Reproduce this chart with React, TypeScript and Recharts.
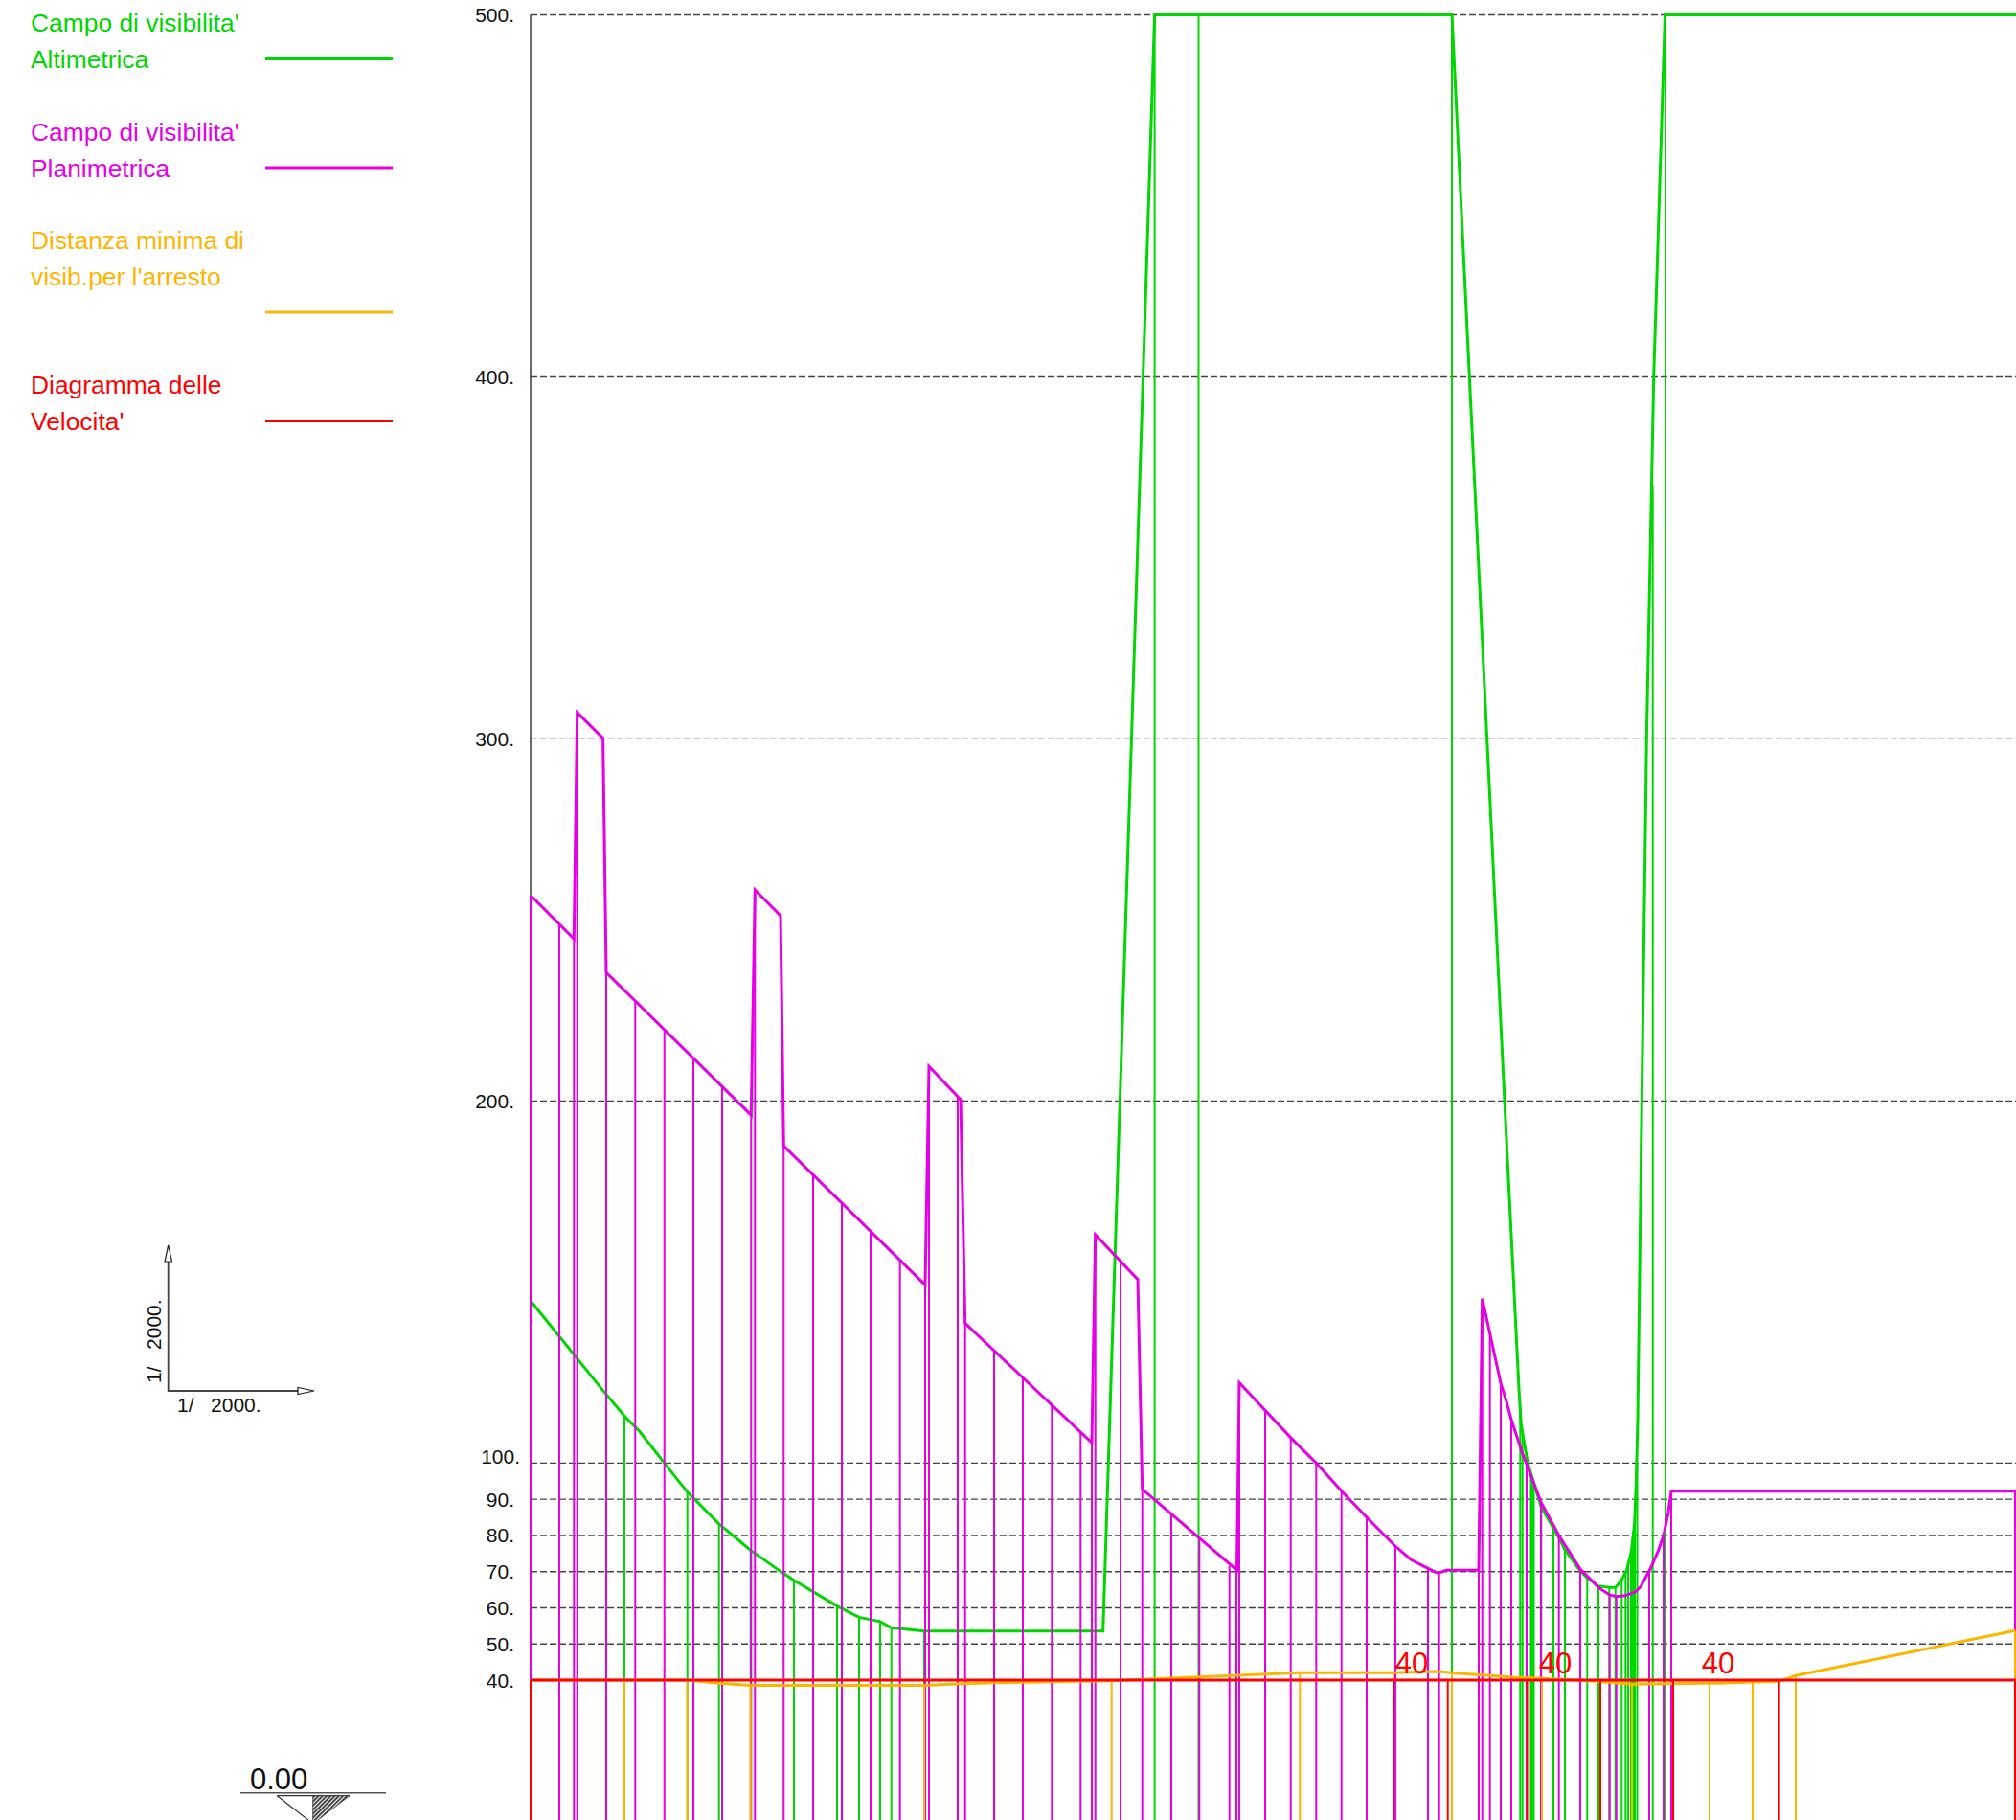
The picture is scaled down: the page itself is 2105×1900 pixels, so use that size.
import { LineChart, Line, XAxis, YAxis, CartesianGrid, ReferenceDot, ReferenceLine } from "recharts";

// progressive along the road, one unit = one drawing pixel at the plotted scale
const altProg = [0, 76, 98, 114, 139.7, 163.7, 196.7, 229.7, 264, 275, 320, 343, 365, 376.7, 411, 597.7, 651.6, 962, 1017, 1032, 1034.3, 1041, 1055.3, 1073.7, 1080, 1096, 1102.7, 1115, 1126.3, 1132.7, 1138.7, 1144.3, 1149.3, 1152.7, 1154.3, 1156, 1160.3, 1165.3, 1172.7, 1184.5, 1551];
const altVal = [144.8, 119.9, 113, 108.7, 100, 92, 83.2, 75.9, 69.5, 67.6, 60.5, 57.4, 56.2, 54.5, 53.6, 53.6, 500, 500, 200, 120.5, 110.7, 100.2, 87.8, 79.4, 76, 70.2, 68.4, 66, 65.6, 65.6, 67.5, 70.2, 75.5, 83.4, 94, 111.7, 200, 300, 400, 500, 500];
const altDropProg = [98, 163.7, 196.7, 229.7, 275, 320, 343, 365, 376.7, 411, 651.6, 697.5, 962, 1033.3, 1035.7, 1040, 1044.5, 1046, 1047.5, 1055.3, 1068, 1080, 1103.3, 1115, 1126.3, 1132.7, 1139.3, 1143.3, 1146, 1149, 1151, 1153, 1155.5, 1171.7, 1185];
const altDropVal = [113, 92, 83.2, 75.9, 67.6, 60.5, 57.4, 56.2, 54.5, 53.6, 500, 500, 500, 115, 108, 101, 96.8, 95, 94, 87.8, 82, 76, 68.3, 66, 65.6, 65.6, 68, 70, 72, 75, 78, 84, 100, 370, 500];

const planProg = [0, 45.3, 48.7, 75.6, 79, 230.3, 234.3, 261, 264.3, 412, 416, 449, 453.7, 586, 589.7, 634, 638.7, 737.5, 740, 793.7, 820.3, 846.7, 873, 903, 919.3, 937, 946, 949, 956, 990, 993.7, 1013, 1019, 1024, 1036, 1055, 1073.7, 1096, 1116, 1126.7, 1133.7, 1142.7, 1153, 1159, 1169, 1177.7, 1183, 1187.7, 1191, 1551];
const planVal = [256.8, 244.8, 307.3, 300.2, 235.5, 196.1, 258.3, 251.2, 187.6, 149.2, 209.6, 200.4, 138.6, 105.6, 163.1, 150.7, 92.8, 70.4, 122.2, 107, 100, 92.3, 85, 77, 73.3, 70.9, 69.7, 69.7, 70.4, 70.4, 145.4, 122, 117, 112, 102.4, 89.2, 80, 70.7, 65.4, 63.6, 63.1, 63.4, 64.3, 65.8, 70.7, 75.9, 80, 86, 92.2, 92.2];
const planDropProg = [0, 30, 45.3, 48.7, 79, 109.3, 139.7, 170, 200, 230.3, 234.3, 264.3, 295, 325, 355, 385.7, 412, 416, 446, 453.7, 484, 514, 544.3, 574.3, 586, 589.7, 616, 638.7, 669, 698.3, 729.7, 737, 740, 767, 793.7, 820.3, 846.7, 873, 903, 937, 948.7, 990, 993.7, 1001.7, 1013, 1024, 1040, 1055, 1073.7, 1096, 1126.7, 1133.7, 1168, 1183, 1191, 1550];
const planDropVal = [256.8, 248.9, 244.8, 307.3, 235.5, 227.6, 219.7, 211.8, 204, 196.1, 258.3, 187.6, 179.6, 171.8, 164, 156, 149.2, 209.6, 200.9, 138.6, 130.9, 123.4, 115.8, 108.3, 105.6, 163.1, 155.7, 92.8, 85.9, 79, 71.6, 70.4, 122.2, 115, 107, 100, 92.3, 85, 77, 70.9, 69.7, 70.4, 145.4, 135, 122, 112, 100, 89.2, 80, 70.7, 63.6, 63.1, 70.7, 80, 92.2, 92.2];

const stopProg = [0, 163.7, 196, 229.7, 411, 446, 483.7, 606, 698.3, 803.3, 901, 946, 957.7, 962, 1026, 1056, 1106, 1151, 1231, 1242.7, 1276, 1304, 1321, 1550];
const stopVal = [40, 40, 39.2, 38.6, 38.6, 39, 39.3, 39.8, 40.9, 42.1, 42.1, 42.4, 42.2, 42, 40.8, 40.5, 39.8, 38.9, 39.2, 39.2, 39.5, 39.7, 41.3, 53.7];
const stopDropProg = [0, 98, 163.7, 229.7, 411, 606.7, 803.3, 901, 962, 1056, 1150, 1231, 1276, 1321, 1550];
const stopDropVal = [40, 40, 40, 38.6, 38.6, 39.8, 42.1, 42.1, 42, 40.5, 38.9, 39.2, 39.5, 41.3, 53.7];

const speedProg = [0, 1551];
const speedVal = [40, 40];
const speedDropProg = [0, 901, 957.7, 1040.5, 1117, 1193, 1303.7, 1550];
const speedDropVal = [40, 40, 40, 40, 40, 40, 40, 40];
const speedLabelProg = [920, 1070, 1240];
const speedLabelVal = 44.7;

const yTicks = [40, 50, 60, 70, 80, 90, 100, 200, 300, 400, 500];
const yBottom = 0;

const GREEN = "#00D600";
const MAGENTA = "#E600E6";
const ORANGE = "#FFB400";
const RED = "#FF0000";
const FONT = "'Liberation Sans', Arial, sans-serif";

const legendItems = [
  { lines: ["Campo di visibilita'", "Altimetrica"], color: GREEN, baseline: [33, 71], mark: 61.5 },
  { lines: ["Campo di visibilita'", "Planimetrica"], color: MAGENTA, baseline: [147, 185], mark: 175 },
  { lines: ["Distanza minima di", "visib.per l'arresto"], color: ORANGE, baseline: [260, 298], mark: 326 },
  { lines: ["Diagramma delle", "Velocita'"], color: RED, baseline: [411, 449], mark: 439.5 },
];

const toRows = (xs: number[], ys: number[]) => xs.map((x, i) => ({ x, y: ys[i] }));

// each drop runs from the curve to the bottom edge, null splits them
const toDrops = (xs: number[], ys: number[]) =>
  xs.flatMap((x, i) => [
    { x, y: ys[i] },
    { x, y: yBottom },
    { x, y: null },
  ]);

const series = [
  { name: "alt", color: GREEN, curve: toRows(altProg, altVal), drops: toDrops(altDropProg, altDropVal) },
  { name: "plan", color: MAGENTA, curve: toRows(planProg, planVal), drops: toDrops(planDropProg, planDropVal) },
  { name: "stop", color: ORANGE, curve: toRows(stopProg, stopVal), drops: toDrops(stopDropProg, stopDropVal) },
  { name: "speed", color: RED, curve: toRows(speedProg, speedVal), drops: toDrops(speedDropProg, speedDropVal) },
];

function AxisTick({ x, y, payload }: any) {
  const isHundred = payload.value === 100;
  return (
    <text
      x={isHundred ? x + 5 : x - 1}
      y={isHundred ? y - 7 : y}
      textAnchor="end"
      dominantBaseline="central"
      fontFamily={FONT}
      fontSize={21}
      fill="#111"
    >
      {payload.value}.
    </text>
  );
}

function Annotations() {
  return (
    <svg width={2105} height={1900} style={{ position: "absolute", left: 0, top: 0, pointerEvents: "none" }}>
      <defs>
        <pattern id="hatch" width="3" height="3" patternUnits="userSpaceOnUse" patternTransform="rotate(-45)">
          <rect width="3" height="3" fill="#fff" />
          <rect width="3" height="1.8" fill="#333" />
        </pattern>
      </defs>

      {legendItems.map((item) => (
        <g key={item.lines[1]}>
          {item.lines.map((line, i) => (
            <text key={line} x={32} y={item.baseline[i]} fontFamily={FONT} fontSize={26.4} fill={item.color}>
              {line}
            </text>
          ))}
          <line x1={277} x2={410} y1={item.mark} y2={item.mark} stroke={item.color} strokeWidth={3} />
        </g>
      ))}

      <polyline points="175.7,1302 175.7,1452 325,1452" fill="none" stroke="#444" strokeWidth={1.8} />
      <polygon points="175.7,1300 172,1317 179.5,1317" fill="#fff" stroke="#222" strokeWidth={1.2} />
      <polygon points="328,1452 311,1448.5 311,1455.5" fill="#fff" stroke="#222" strokeWidth={1.2} />
      <text x={185} y={1474} fontFamily={FONT} fontSize={21} fill="#111" xmlSpace="preserve">
        {"1/   2000."}
      </text>
      <text
        transform="translate(168,1444) rotate(-90)"
        fontFamily={FONT}
        fontSize={21}
        fill="#111"
        xmlSpace="preserve"
      >
        {"1/   2000."}
      </text>

      <text x={261} y={1868} fontFamily={FONT} fontSize={31} fill="#111">
        0.00
      </text>
      <line x1={251} x2={403} y1={1871.7} y2={1871.7} stroke="#555" strokeWidth={1.6} />
      <polyline points="289.3,1874.7 365,1874.7" fill="none" stroke="#333" strokeWidth={1.2} />
      <polyline points="289.3,1874.7 327,1904" fill="none" stroke="#333" strokeWidth={1.2} />
      <polygon points="326.7,1874.7 365,1874.7 326.7,1904" fill="url(#hatch)" stroke="#333" strokeWidth={0.8} />
    </svg>
  );
}

export default function App() {
  return (
    <div style={{ position: "absolute", left: 0, top: 0, width: 2105, height: 1900, overflow: "hidden", background: "#fff" }}>
      <LineChart width={2105} height={1905.3} margin={{ top: 15.5, right: 0, bottom: 0, left: 494 }}>
        <CartesianGrid vertical={false} stroke="#444" strokeWidth={1.4} strokeDasharray="7 3" />
        <XAxis dataKey="x" type="number" domain={[0, 1551]} hide />
        <YAxis
          type="number"
          width={60}
          domain={[yBottom, 500]}
          ticks={yTicks}
          interval={0}
          tick={AxisTick}
          tickLine={false}
          tickMargin={10}
          axisLine={false}
        />
        <ReferenceLine
          segment={[
            { x: 0, y: 256.8 },
            { x: 0, y: 500 },
          ]}
          stroke="#444"
          strokeWidth={1.6}
        />
        {series.map((s) => [
          <Line
            key={s.name + "-drops"}
            data={s.drops}
            dataKey="y"
            stroke={s.color}
            strokeWidth={2}
            dot={false}
            activeDot={false}
            legendType="none"
            type="linear"
            isAnimationActive={false}
          />,
          <Line
            key={s.name + "-curve"}
            data={s.curve}
            dataKey="y"
            stroke={s.color}
            strokeWidth={3}
            dot={false}
            activeDot={false}
            legendType="none"
            type="linear"
            isAnimationActive={false}
          />,
        ])}
        {speedLabelProg.map((x) => (
          <ReferenceDot
            key={x}
            x={x}
            y={speedLabelVal}
            r={0}
            stroke="none"
            fill="none"
            label={{ value: "40", position: "center", fill: RED, fontSize: 31, fontFamily: FONT }}
          />
        ))}
      </LineChart>
      <Annotations />
    </div>
  );
}
